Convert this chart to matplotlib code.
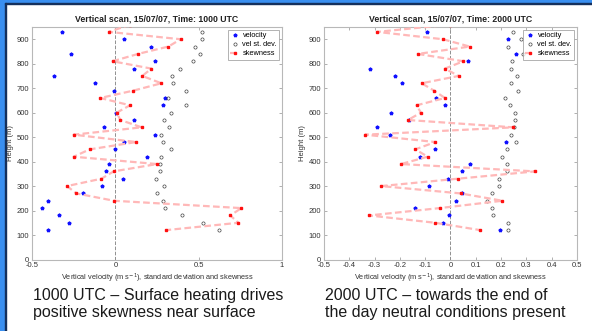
import numpy as np
import matplotlib
matplotlib.use('Agg')
import matplotlib.pyplot as plt
from matplotlib.patches import Rectangle

plt.rcParams['font.family'] = ['Liberation Sans', 'DejaVu Sans']

# heights of the scan levels (m)
heights = [960, 930, 900, 870, 840, 810, 780, 750, 720, 690, 660, 630, 600, 570,
           540, 510, 480, 450, 420, 390, 360, 330, 300, 270, 240, 210, 180, 150, 120]

# 1000 UTC
vel_1000 = [np.nan, -0.32, 0.054, 0.214, -0.264, 0.236, 0.11, -0.366, -0.122, -0.01, 0.298,
            0.286, 0.006, 0.112, -0.07, 0.238, 0.054, 0.0, 0.192, -0.04, -0.056, 0.044,
            -0.082, -0.196, -0.404, -0.438, -0.336, -0.278, -0.404]
std_1000 = [np.nan, 0.518, 0.518, 0.476, 0.506, 0.466, 0.386, 0.34, 0.344, 0.426, 0.318,
            0.426, 0.336, 0.294, 0.322, 0.274, 0.286, 0.334, 0.272, 0.266, 0.266, 0.246,
            0.294, 0.248, 0.284, 0.3, 0.402, 0.524, 0.624]
skew_1000 = [0.09, -0.038, 0.392, 0.318, 0.136, -0.016, 0.216, 0.162, 0.276, 0.108, -0.09,
             0.088, 0.008, 0.03, 0.158, -0.25, 0.126, -0.154, -0.25, 0.25, -0.01, -0.084,
             -0.29, -0.234, -0.008, 0.756, 0.69, 0.738, 0.304]

# 2000 UTC
vel_2000 = [np.nan, -0.094, 0.226, np.nan, 0.259, 0.068, -0.319, -0.218, -0.19, np.nan,
            -0.056, -0.022, -0.237, -0.164, -0.292, -0.241, 0.218, -0.061, -0.122, 0.076,
            0.044, -0.011, -0.085, 0.047, 0.02, -0.14, -0.005, -0.031, 0.196]
std_2000 = [np.nan, 0.249, 0.28, 0.229, 0.287, 0.245, 0.238, 0.263, 0.241, 0.268, 0.214,
            0.235, 0.253, 0.254, 0.252, 0.241, 0.26, 0.222, 0.203, 0.225, 0.222, 0.192,
            0.192, 0.166, 0.145, 0.166, 0.169, 0.226, 0.229]
skew_2000 = [0.0, -0.29, -0.03, 0.076, -0.129, 0.051, -0.022, 0.032, -0.114, -0.065, -0.022,
             -0.134, -0.117, -0.168, 0.249, -0.337, -0.06, -0.139, -0.09, -0.196, 0.334,
             0.028, -0.274, 0.04, 0.205, -0.043, -0.322, -0.06, 0.118]

panels = [
    ('Vertical scan, 15/07/07, Time: 1000 UTC', vel_1000, std_1000, skew_1000,
     [-0.5, 1], [-0.5, 0, 0.5, 1], ['-0.5', '0', '0.5', '1'],
     '1000 UTC \u2013 Surface heating drives\npositive skewness near surface'),
    ('Vertical scan, 15/07/07, Time: 2000 UTC', vel_2000, std_2000, skew_2000,
     [-0.5, 0.5], [-0.5, -0.4, -0.3, -0.2, -0.1, 0, 0.1, 0.2, 0.3, 0.4, 0.5],
     ['-0.5', '-0.4', '-0.3', '-0.2', '-0.1', '0', '0.1', '0.2', '0.3', '0.4', '0.5'],
     '2000 UTC \u2013 towards the end of\nthe day neutral conditions present'),
]
positions = [[32 / 592, 71.5 / 331, 250 / 592, 232.5 / 331],
             [324 / 592, 71.5 / 331, 253 / 592, 232.5 / 331]]

fig = plt.figure(figsize=(5.92, 3.31), dpi=100)
fig.patch.set_facecolor('white')

# blue slide border, top and left
fig.add_artist(Rectangle((0, 1 - 3 / 331), 1, 3 / 331, transform=fig.transFigure,
                         color='#3a8ff0', zorder=0))
fig.add_artist(Rectangle((0, 0), 5 / 592, 1, transform=fig.transFigure,
                         color='#3a8ff0', zorder=0))
fig.add_artist(Rectangle((5 / 592, 0), 1.2 / 592, 1 - 3 / 331, transform=fig.transFigure,
                         color='#15305c', zorder=0))
fig.add_artist(Rectangle((5 / 592, 1 - 4.2 / 331), 1, 1.2 / 331, transform=fig.transFigure,
                         color='#15305c', zorder=0))

frame_col = '#b8b8b8'
for pos, (title, vel, std, skew, xlim, xticks, xlabels, caption) in zip(positions, panels):
    ax = fig.add_axes(pos)
    ax.axvline(0, color='#909090', linestyle='--', linewidth=0.7, zorder=1)
    ax.plot(vel, heights, linestyle='none', marker='*', markersize=2.6,
            color='#1010ff', label='velocity', zorder=2)
    ax.plot(std, heights, linestyle='none', marker='o', markersize=2.3,
            markerfacecolor='none', markeredgecolor='#303030', markeredgewidth=0.45,
            label='vel st. dev.', zorder=2)
    ax.plot(skew, heights, linestyle='--', linewidth=1.6, color='#ffb8b8',
            dashes=(3, 1.5), marker='s', markersize=2.0, markerfacecolor='#ff1010',
            markeredgecolor='#ff1010', label='skewness', zorder=3)

    ax.set_xlim(xlim)
    ax.set_ylim(0, 950)
    ax.set_xticks(xticks)
    ax.set_xticklabels(xlabels)
    ax.set_yticks(range(0, 1000, 100))
    ax.tick_params(direction='in', length=2.5, width=0.5, color='#909090',
                   labelsize=5.5, labelcolor='#333333', top=True, right=True, pad=2)
    for s in ax.spines.values():
        s.set_color(frame_col)
        s.set_linewidth(0.8)

    ax.set_title(title, fontsize=6.3, fontweight='bold', pad=4, color='#202020')
    ax.set_xlabel('Vertical velocity (m s$^{-1}$), standard deviation and skewness',
                  fontsize=5.3, labelpad=2, color='#333333')
    ax.set_ylabel('Height (m)', fontsize=5.5, labelpad=2, color='#333333')

    leg = ax.legend(loc='upper right', fontsize=5.3, frameon=True, fancybox=False,
                    borderpad=0.3, labelspacing=0.25, handlelength=1.3,
                    handletextpad=0.4, borderaxespad=0.4)
    leg.get_frame().set_edgecolor('#909090')
    leg.get_frame().set_linewidth(0.6)

    fig.text(pos[0] + 1 / 592, 1 - 288 / 331, caption, fontsize=11.5, va='top',
             ha='left', color='#1a1a1a', linespacing=1.2)

fig.savefig('out.png', dpi=100)
